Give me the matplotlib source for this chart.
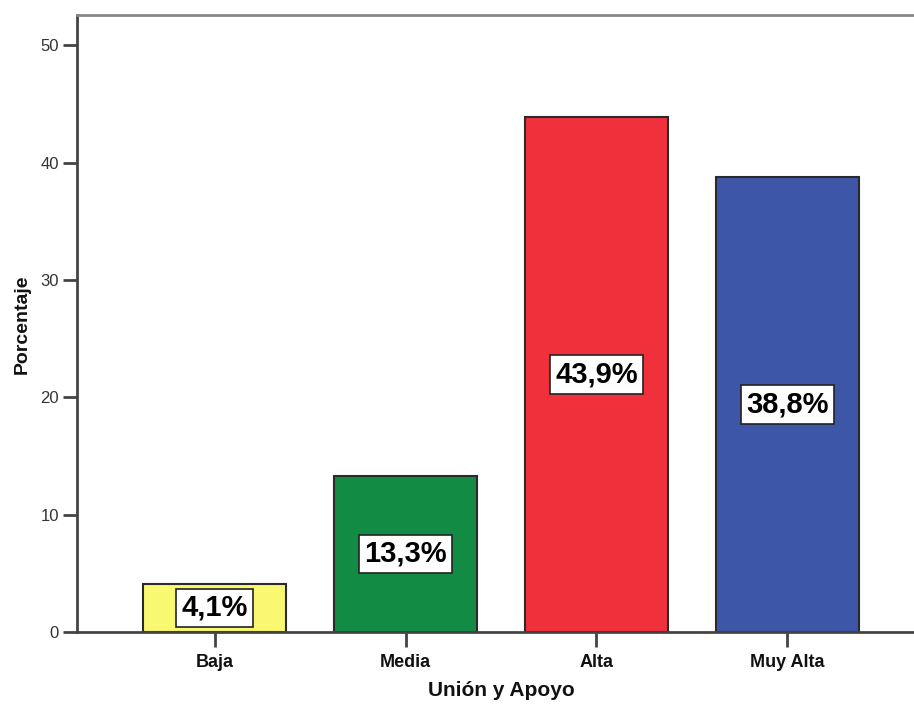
import matplotlib
matplotlib.use("Agg")
import matplotlib.pyplot as plt

categories = ["Baja", "Media", "Alta", "Muy Alta"]
values = [4.1, 13.3, 43.9, 38.8]
labels = ["4,1%", "13,3%", "43,9%", "38,8%"]
colors = ["#FAF870", "#128C45", "#F0303A", "#3D56A8"]
yticks = [0, 10, 20, 30, 40, 50]

plt.rcParams['font.family'] = ['Liberation Sans', 'DejaVu Sans']

W, H = 914, 705
fig = plt.figure(figsize=(W / 100, H / 100), dpi=100)
left_px, right_px, top_px, bottom_px = 77, 925, 15, 632
aw, ah = right_px - left_px, bottom_px - top_px
ax = fig.add_axes([left_px / W, (H - bottom_px) / H, aw / W, ah / H])

x = list(range(len(categories)))
ax.bar(x, values, width=0.75, color=colors, edgecolor="#2a2a2a", linewidth=1.5, zorder=2)

for xi, v, lab in zip(x, values, labels):
    ax.text(xi, v / 2, lab, ha="center", va="center", fontsize=21, fontweight="bold",
            color="black", zorder=3,
            bbox=dict(boxstyle="square,pad=0.18", facecolor="white", edgecolor="#222222", linewidth=1.2))

ax.set_xlim(-0.72, 3.72)
ax.set_ylim(0, 52.6)
ax.set_yticks(yticks)
ax.set_xticks(x)
ax.set_xticklabels(categories, fontsize=13, fontweight="bold")
ax.tick_params(axis="y", direction="out", length=10, width=2, color="#444444", labelsize=12, labelcolor="#333333", pad=3)
ax.tick_params(axis="x", direction="out", length=11, width=2, color="#444444", labelcolor="#111111", pad=5)

for s in ["left", "bottom"]:
    ax.spines[s].set_color("#444444")
    ax.spines[s].set_linewidth(2)
ax.spines["top"].set_color("#888888")
ax.spines["top"].set_linewidth(2)
ax.spines["right"].set_visible(False)

ax.set_xlabel("Unión y Apoyo", fontsize=15, fontweight="bold", color="#111111", va="center")
ax.xaxis.set_label_coords((501 - left_px) / aw, -(690 - bottom_px) / ah)
ax.set_ylabel("Porcentaje", fontsize=14, fontweight="bold", color="#111111", va="center")
ax.yaxis.set_label_coords(-(left_px - 22) / aw, (bottom_px - 324) / ah)

fig.savefig("out.png", dpi=100)
